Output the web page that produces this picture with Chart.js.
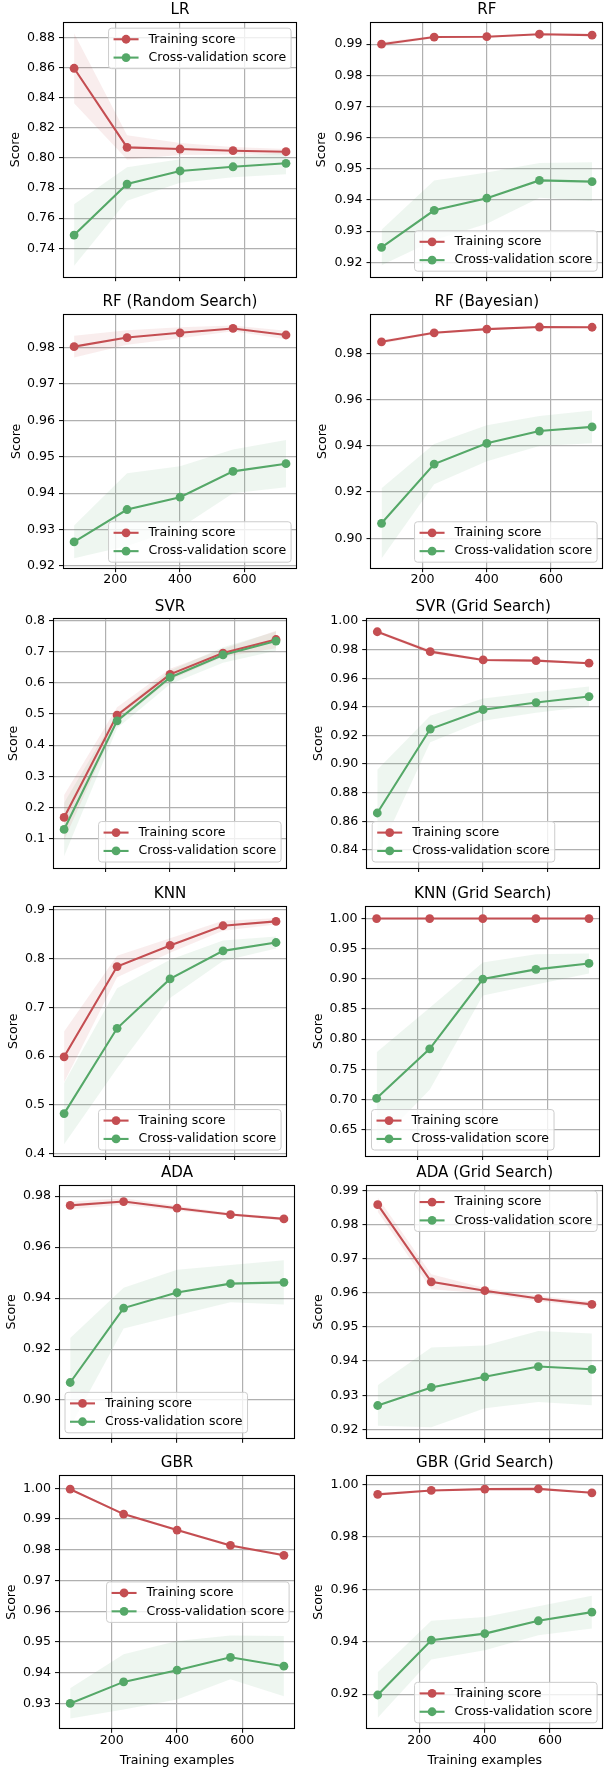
<!DOCTYPE html>
<html>
<head>
<meta charset="utf-8">
<script src="https://cdn.jsdelivr.net/npm/chart.js@4.4.1/dist/chart.umd.min.js"></script>
<style>
html, body { margin: 0; padding: 0; width: 605px; height: 1769px; overflow: hidden; background: #ffffff; }
canvas { position: absolute; }
</style>
</head>
<body>
<script>
// ---------------- data ----------------
const trainSizes = [72.8, 236.6, 400.4, 564.2, 728];
const xLimits = [40.04, 760.76];
const xTicks = [200, 400, 600];
const seriesLabels = ['Training score', 'Cross-validation score'];
const xAxisTitle = 'Training examples';
const yAxisTitle = 'Score';
const panelTitles = ['LR', 'RF', 'RF (Random Search)', 'RF (Bayesian)', 'SVR', 'SVR (Grid Search)',
  'KNN', 'KNN (Grid Search)', 'ADA', 'ADA (Grid Search)', 'GBR', 'GBR (Grid Search)'];

const lrTrainMean = [0.8597, 0.8071, 0.8060, 0.8049, 0.8042];
const lrTrainStd  = [0.0233, 0.0080, 0.0040, 0.0025, 0.0018];
const lrCvMean    = [0.7488, 0.7827, 0.7914, 0.7942, 0.7965];
const lrCvStd     = [0.0204, 0.0111, 0.0078, 0.0070, 0.0072];
const lrYTicks    = [0.74, 0.76, 0.78, 0.80, 0.82, 0.84, 0.86, 0.88];
const lrYLimits   = [0.7211, 0.8900];

const rfTrainMean = [0.9900, 0.9923, 0.9924, 0.9932, 0.9929];
const rfTrainStd  = [0.0007, 0.0003, 0.0003, 0.0002, 0.0002];
const rfCvMean    = [0.9248, 0.9367, 0.9406, 0.9463, 0.9459];
const rfCvStd     = [0.0057, 0.0096, 0.0082, 0.0056, 0.0062];
const rfYTicks    = [0.92, 0.93, 0.94, 0.95, 0.96, 0.97, 0.98, 0.99];
const rfYLimits   = [0.9154, 0.9969];

const rfrsTrainMean = [0.9803, 0.9828, 0.9841, 0.9853, 0.9835];
const rfrsTrainStd  = [0.0030, 0.0020, 0.0015, 0.0008, 0.0012];
const rfrsCvMean    = [0.9266, 0.9355, 0.9389, 0.9460, 0.9481];
const rfrsCvStd     = [0.0045, 0.0100, 0.0085, 0.0060, 0.0065];
const rfrsYTicks    = [0.92, 0.93, 0.94, 0.95, 0.96, 0.97, 0.98];
const rfrsYLimits   = [0.9195, 0.9890];

const rfbTrainMean = [0.9850, 0.9889, 0.9905, 0.9914, 0.9913];
const rfbTrainStd  = [0.0008, 0.0005, 0.0004, 0.0003, 0.0003];
const rfbCvMean    = [0.9065, 0.9321, 0.9411, 0.9464, 0.9482];
const rfbCvStd     = [0.0152, 0.0087, 0.0078, 0.0065, 0.0071];
const rfbYTicks    = [0.90, 0.92, 0.94, 0.96, 0.98];
const rfbYLimits   = [0.8873, 0.9966];

const svrTrainMean = [0.1675, 0.4966, 0.6277, 0.6960, 0.7395];
const svrTrainStd  = [0.0725, 0.0250, 0.0180, 0.0130, 0.0280];
const svrCvMean    = [0.1290, 0.4780, 0.6177, 0.6900, 0.7344];
const svrCvStd     = [0.0860, 0.0240, 0.0220, 0.0250, 0.0310];
const svrYTicks    = [0.1, 0.2, 0.3, 0.4, 0.5, 0.6, 0.7, 0.8];
const svrYLimits   = [0.0067, 0.8045];

const svrgTrainMean = [0.9925, 0.9786, 0.9728, 0.9723, 0.9705];
const svrgTrainStd  = [0.0008, 0.0015, 0.0008, 0.0008, 0.0008];
const svrgCvMean    = [0.8658, 0.9245, 0.9380, 0.9430, 0.9472];
const svrgCvStd     = [0.0302, 0.0093, 0.0078, 0.0072, 0.0070];
const svrgYTicks    = [0.84, 0.86, 0.88, 0.90, 0.92, 0.94, 0.96, 0.98, 1.00];
const svrgYLimits   = [0.8277, 1.0012];

const knnTrainMean = [0.5986, 0.7835, 0.8267, 0.8671, 0.8760];
const knnTrainStd  = [0.0520, 0.0220, 0.0150, 0.0100, 0.0064];
const knnCvMean    = [0.4823, 0.6570, 0.7582, 0.8157, 0.8328];
const knnCvStd     = [0.0627, 0.0820, 0.0390, 0.0210, 0.0125];
const knnYTicks    = [0.4, 0.5, 0.6, 0.7, 0.8, 0.9];
const knnYLimits   = [0.3965, 0.9055];

const knngTrainMean = [1.0, 1.0, 1.0, 1.0, 1.0];
const knngTrainStd  = [0.0, 0.0, 0.0, 0.0, 0.0];
const knngCvMean    = [0.7018, 0.7839, 0.8997, 0.9157, 0.9256];
const knngCvStd     = [0.0765, 0.0680, 0.0275, 0.0250, 0.0165];
const knngYTicks    = [0.65, 0.70, 0.75, 0.80, 0.85, 0.90, 0.95, 1.00];
const knngYLimits   = [0.6070, 1.0192];

const adaTrainMean = [0.9764, 0.9779, 0.9753, 0.9728, 0.9711];
const adaTrainStd  = [0.0015, 0.0013, 0.0010, 0.0006, 0.0005];
const adaCvMean    = [0.9069, 0.9361, 0.9422, 0.9457, 0.9462];
const adaCvStd     = [0.0175, 0.0080, 0.0089, 0.0073, 0.0087];
const adaYTicks    = [0.90, 0.92, 0.94, 0.96, 0.98];
const adaYLimits   = [0.8850, 0.9842];

const adagTrainMean = [0.9858, 0.9632, 0.9606, 0.9583, 0.9566];
const adagTrainStd  = [0.0021, 0.0022, 0.0008, 0.0008, 0.0008];
const adagCvMean    = [0.9270, 0.9323, 0.9354, 0.9384, 0.9376];
const adagCvStd     = [0.0059, 0.0117, 0.0092, 0.0104, 0.0105];
const adagYTicks    = [0.92, 0.93, 0.94, 0.95, 0.96, 0.97, 0.98, 0.99];
const adagYLimits   = [0.9174, 0.9914];

const gbrTrainMean = [0.9997, 0.9916, 0.9864, 0.9814, 0.9782];
const gbrTrainStd  = [0.0003, 0.0004, 0.0004, 0.0004, 0.0004];
const gbrCvMean    = [0.9300, 0.9370, 0.9408, 0.9450, 0.9421];
const gbrCvStd     = [0.0049, 0.0090, 0.0095, 0.0071, 0.0098];
const gbrYTicks    = [0.93, 0.94, 0.95, 0.96, 0.97, 0.98, 0.99, 1.00];
const gbrYLimits   = [0.9219, 1.0040];

const gbrgTrainMean = [0.9962, 0.9977, 0.9982, 0.9983, 0.9968];
const gbrgTrainStd  = [0.0005, 0.0003, 0.0002, 0.0002, 0.0003];
const gbrgCvMean    = [0.9197, 0.9406, 0.9431, 0.9480, 0.9513];
const gbrgCvStd     = [0.0087, 0.0074, 0.0063, 0.0055, 0.0062];
const gbrgYTicks    = [0.92, 0.94, 0.96, 0.98, 1.00];
const gbrgYLimits   = [0.9070, 1.0032];

const yTickDecimals = [2, 2, 2, 2, 1, 2, 1, 2, 2, 2, 2, 2];

const panelSeries = [
  [lrTrainMean, lrTrainStd, lrCvMean, lrCvStd, lrYTicks, lrYLimits],
  [rfTrainMean, rfTrainStd, rfCvMean, rfCvStd, rfYTicks, rfYLimits],
  [rfrsTrainMean, rfrsTrainStd, rfrsCvMean, rfrsCvStd, rfrsYTicks, rfrsYLimits],
  [rfbTrainMean, rfbTrainStd, rfbCvMean, rfbCvStd, rfbYTicks, rfbYLimits],
  [svrTrainMean, svrTrainStd, svrCvMean, svrCvStd, svrYTicks, svrYLimits],
  [svrgTrainMean, svrgTrainStd, svrgCvMean, svrgCvStd, svrgYTicks, svrgYLimits],
  [knnTrainMean, knnTrainStd, knnCvMean, knnCvStd, knnYTicks, knnYLimits],
  [knngTrainMean, knngTrainStd, knngCvMean, knngCvStd, knngYTicks, knngYLimits],
  [adaTrainMean, adaTrainStd, adaCvMean, adaCvStd, adaYTicks, adaYLimits],
  [adagTrainMean, adagTrainStd, adagCvMean, adagCvStd, adagYTicks, adagYLimits],
  [gbrTrainMean, gbrTrainStd, gbrCvMean, gbrCvStd, gbrYTicks, gbrYLimits],
  [gbrgTrainMean, gbrgTrainStd, gbrgCvMean, gbrgCvStd, gbrgYTicks, gbrgYLimits]
];

// ---------------- layout (pixel geometry of each axes box) ----------------
// [scoreLabelX, left, right, top, bottom, xTickLabels, xTitle, legendLoc]
const panelLayout = [
  [16.0, 63.5, 301.0, 22.7, 276.7, false, false, 'upper right'],
  [321.7, 371.0, 607.0, 22.7, 276.7, false, false, 'lower right'],
  [16.7, 63.5, 301.0, 315.0, 567.7, true, false, 'lower right'],
  [322.7, 371.0, 607.0, 315.0, 567.7, true, false, 'lower right'],
  [13.3, 53.5, 291.0, 619.3, 867.5, false, false, 'lower right'],
  [318.3, 366.7, 603.8, 619.3, 867.5, false, false, 'lower left'],
  [13.3, 53.5, 291.0, 907.0, 1155.5, false, false, 'lower right'],
  [318.3, 366.0, 603.2, 907.0, 1155.5, false, false, 'lower left'],
  [11.7, 59.5, 298.2, 1185.5, 1438.3, false, false, 'lower left'],
  [318.3, 367.0, 606.3, 1185.5, 1438.3, false, false, 'upper right'],
  [11.7, 59.5, 298.5, 1476.0, 1728.3, true, true, 'center right'],
  [318.3, 367.0, 607.0, 1476.0, 1728.3, true, true, 'lower right']
];

// ---------------- style ----------------
const FONT = '"DejaVu Sans", "Liberation Sans", sans-serif';
const TEXT = '#000000';
const RED = '#c44e52';
const GREEN = '#55a868';
const RED_FILL = 'rgba(196, 78, 82, 0.1)';
const GREEN_FILL = 'rgba(85, 168, 104, 0.1)';
const GRID = '#b0b0b0';
const TICK_FS = 12.6;
const TITLE_FS = 15.1;
const LEG_FS = 12.5;
const MARKER_R = 4.4;
const LINE_W = 2.1;

// frame (all four spines) + matplotlib-style legend
const mplDecor = {
  id: 'mplDecor',
  afterDatasetsDraw(chart, args, opts) {
    const ctx = chart.ctx;
    const a = chart.chartArea;
    ctx.save();
    // spines
    ctx.strokeStyle = '#000';
    ctx.lineWidth = 1.1;
    const l = Math.round(a.left) - 0.5, t = Math.round(a.top) - 0.5;
    const r = Math.round(a.right) - 0.5, b = Math.round(a.bottom) + 0.5;
    ctx.strokeRect(l, t, r - l, b - t);

    // legend
    ctx.font = LEG_FS + 'px ' + FONT;
    const pad = 0.4 * LEG_FS, handleLen = 2.0 * LEG_FS, htPad = 0.8 * LEG_FS;
    const rowH = 12.1, spacing = 0.5 * LEG_FS, axPad = 5.5;
    let tw = 0;
    seriesLabels.forEach(s => { tw = Math.max(tw, ctx.measureText(s).width); });
    const w = pad + handleLen + htPad + tw + pad;
    const h = pad * 2 + rowH * 2 + spacing;
    let x, y;
    const loc = opts.loc;
    if (loc === 'upper right') { x = a.right - axPad - w; y = a.top + axPad; }
    else if (loc === 'lower right') { x = a.right - axPad - w; y = a.bottom - axPad - h; }
    else if (loc === 'lower left') { x = a.left + axPad; y = a.bottom - axPad - h; }
    else { x = a.right - axPad - w; y = (a.top + a.bottom) / 2 - h / 2; }
    const rad = 3;
    ctx.beginPath();
    ctx.moveTo(x + rad, y);
    ctx.lineTo(x + w - rad, y); ctx.arcTo(x + w, y, x + w, y + rad, rad);
    ctx.lineTo(x + w, y + h - rad); ctx.arcTo(x + w, y + h, x + w - rad, y + h, rad);
    ctx.lineTo(x + rad, y + h); ctx.arcTo(x, y + h, x, y + h - rad, rad);
    ctx.lineTo(x, y + rad); ctx.arcTo(x, y, x + rad, y, rad);
    ctx.closePath();
    ctx.fillStyle = 'rgba(255,255,255,0.8)';
    ctx.fill();
    ctx.strokeStyle = '#cccccc';
    ctx.lineWidth = 1;
    ctx.stroke();
    const colors = [RED, GREEN];
    seriesLabels.forEach((s, k) => {
      const cy = y + pad + rowH / 2 + k * (rowH + spacing);
      const hx0 = x + pad, hx1 = x + pad + handleLen;
      ctx.strokeStyle = colors[k];
      ctx.lineWidth = LINE_W;
      ctx.beginPath(); ctx.moveTo(hx0, cy); ctx.lineTo(hx1, cy); ctx.stroke();
      ctx.fillStyle = colors[k];
      ctx.beginPath(); ctx.arc((hx0 + hx1) / 2, cy, MARKER_R, 0, Math.PI * 2); ctx.fill();
      ctx.fillStyle = TEXT;
      ctx.textAlign = 'left';
      ctx.textBaseline = 'middle';
      ctx.fillText(s, hx1 + htPad, cy);
    });
    ctx.restore();
  }
};
Chart.register(mplDecor);

function points(values) {
  return trainSizes.map((x, k) => ({ x: x, y: values[k] }));
}
function shifted(mean, std, sign) {
  return mean.map((m, k) => m + sign * std[k]);
}

function makePanel(i) {
  const [trainMean, trainStd, cvMean, cvStd, yTicks, yLimits] = panelSeries[i];
  const [scoreX, left, right, top, bottom, showXLabels, showXTitle, legendLoc] = panelLayout[i];
  const dec = yTickDecimals[i];

  const titleLH = TITLE_FS * 1.2;
  const labelLH = TICK_FS * 1.2;
  const cLeft = Math.round(scoreX - labelLH / 2);
  const cTop = Math.round(top - 12.5 - titleLH / 2);
  const yW = left - cLeft;
  const cW = Math.ceil(right - cLeft);
  const padRight = cW - (right - cLeft);
  const bottomExtra = showXTitle ? 39.3 : (showXLabels ? 22 : 6);
  const cH = Math.round(bottom + bottomExtra - cTop);
  const xH = cTop + cH - bottom;
  const titlePadBottom = top - cTop - titleLH;

  const canvas = document.createElement('canvas');
  canvas.width = cW; canvas.height = cH;
  canvas.style.left = cLeft + 'px'; canvas.style.top = cTop + 'px';
  canvas.style.width = cW + 'px'; canvas.style.height = cH + 'px';
  document.body.appendChild(canvas);

  const lineDs = (label, vals, color) => ({
    label: label, data: points(vals), borderColor: color, backgroundColor: color,
    borderWidth: LINE_W, pointRadius: MARKER_R, pointBorderWidth: 0, pointBackgroundColor: color,
    pointBorderColor: color, tension: 0, fill: false
  });
  const bandDs = (vals, fillColor, fillTo) => ({
    label: '', data: points(vals), borderColor: 'rgba(0,0,0,0)', borderWidth: 0,
    backgroundColor: fillColor, pointRadius: 0, tension: 0, fill: fillTo
  });

  const tickFont = { family: FONT, size: TICK_FS, lineHeight: 1.2 };
  const zeroPad = s => { s.paddingLeft = 0; s.paddingRight = 0; s.paddingTop = 0; s.paddingBottom = 0; };

  new Chart(canvas, {
    type: 'line',
    data: {
      datasets: [
        lineDs(seriesLabels[1], cvMean, GREEN),
        lineDs(seriesLabels[0], trainMean, RED),
        bandDs(shifted(trainMean, trainStd, 1), RED_FILL, '+1'),
        bandDs(shifted(trainMean, trainStd, -1), RED_FILL, false),
        bandDs(shifted(cvMean, cvStd, 1), GREEN_FILL, '+1'),
        bandDs(shifted(cvMean, cvStd, -1), GREEN_FILL, false)
      ]
    },
    options: {
      responsive: false,
      animation: false,
      devicePixelRatio: 1,
      events: [],
      layout: { padding: { left: 0, top: 0, right: padRight, bottom: 0 } },
      plugins: {
        legend: { display: false },
        tooltip: { enabled: false },
        title: {
          display: true, text: panelTitles[i], fullSize: false, color: TEXT,
          font: { family: FONT, size: TITLE_FS, weight: 'normal', lineHeight: 1.2 },
          padding: { top: 0, bottom: titlePadBottom }
        },
        mplDecor: { loc: legendLoc }
      },
      scales: {
        x: {
          type: 'linear', position: 'bottom', min: xLimits[0], max: xLimits[1],
          afterBuildTicks: s => { s.ticks = xTicks.map(v => ({ value: v })); },
          afterFit: s => { s.height = xH; zeroPad(s); },
          ticks: { display: showXLabels, color: TEXT, font: tickFont, padding: 0, maxRotation: 0, autoSkip: false },
          grid: { color: GRID, lineWidth: 1.2, drawTicks: true, tickLength: 4.5, tickColor: '#000', tickWidth: 1 },
          border: { display: false },
          title: { display: showXTitle, text: xAxisTitle, color: TEXT, font: tickFont, padding: 0 }
        },
        y: {
          type: 'linear', position: 'left', min: yLimits[0], max: yLimits[1],
          afterBuildTicks: s => { s.ticks = yTicks.map(v => ({ value: v })); },
          afterFit: s => { s.width = yW; zeroPad(s); },
          ticks: { color: TEXT, font: tickFont, padding: 4, autoSkip: false, callback: v => Number(v).toFixed(dec) },
          grid: { color: GRID, lineWidth: 1.2, drawTicks: true, tickLength: 4.5, tickColor: '#000', tickWidth: 1 },
          border: { display: false },
          title: { display: true, text: yAxisTitle, color: TEXT, font: tickFont, padding: 0 }
        }
      }
    }
  });
}

for (let i = 0; i < panelTitles.length; i++) makePanel(i);
</script>
</body>
</html>
